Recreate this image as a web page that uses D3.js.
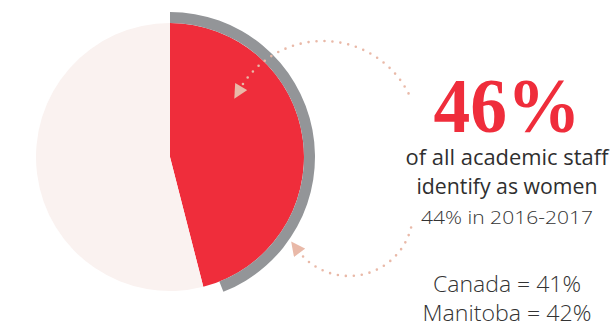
<!DOCTYPE html>
<html>
<head>
<meta charset="utf-8">
<script src="https://cdn.jsdelivr.net/npm/d3@7"></script>
<style>
  body { margin: 0; background: #fff; }
  svg { display: block; }
</style>
</head>
<body>
<div id="chart"></div>
<script>
// share of academic staff who identify as women
const categories = ['Women', 'Other'];
const currentShare = [46, 54];
const previousShare = 44;          // 2016-2017, drawn as the grey outer arc
const headline = '46%';
const captionLines = ['of all academic staff', 'identify as women'];
const previousLabel = '44% in 2016-2017';
const comparisons = ['Canada = 41%', 'Manitoba = 42%'];

const width = 616, height = 330;
const cx = 170, cy = 157, radius = 134;

const svg = d3.select('#chart').append('svg')
    .attr('width', width)
    .attr('height', height);

const defs = svg.append('defs');
defs.append('marker')
    .attr('id', 'arrow')
    .attr('viewBox', '0 0 10 10')
    .attr('refX', 2)
    .attr('refY', 5)
    .attr('markerUnits', 'userSpaceOnUse')
    .attr('markerWidth', 15)
    .attr('markerHeight', 14)
    .attr('orient', 'auto')
  .append('path')
    .attr('d', 'M0,0 L10,5 L0,10 Z')
    .attr('fill', '#e9b9a8');

const pieG = svg.append('g')
    .attr('transform', `translate(${cx},${cy})`);

const pie = d3.pie().sort(null).value(d => d)(currentShare);
const arc = d3.arc().innerRadius(0).outerRadius(radius);
const color = d3.scaleOrdinal().domain(categories).range(['#ef2d3b', '#faf2f0']);

pieG.selectAll('.slice')
    .data(pie)
    .join('path')
    .attr('class', 'slice')
    .attr('d', arc)
    .attr('fill', (d, i) => color(categories[i]));

// previous year ring
const share = d3.scaleLinear().domain([0, 100]).range([0, 2 * Math.PI]);
pieG.append('path')
    .attr('d', d3.arc()
        .innerRadius(radius)
        .outerRadius(radius + 11)
        .startAngle(0)
        .endAngle(share(previousShare)))
    .attr('fill', '#939598');

// dotted curved arrows
function arcPath(ox, oy, r, a0, a1, sweep) {
    const toRad = Math.PI / 180;
    const x0 = ox + r * Math.cos(a0 * toRad), y0 = oy + r * Math.sin(a0 * toRad);
    const x1 = ox + r * Math.cos(a1 * toRad), y1 = oy + r * Math.sin(a1 * toRad);
    return `M${x0},${y0} A${r},${r} 0 0 ${sweep} ${x1},${y1}`;
}

svg.append('path')
    .attr('d', arcPath(323, 137, 96, -27, -150, 0))
    .attr('fill', 'none')
    .attr('stroke', '#e9b9a8')
    .attr('stroke-width', 2.6)
    .attr('stroke-linecap', 'round')
    .attr('stroke-dasharray', '0 8')
    .attr('marker-end', 'url(#arrow)');

svg.append('path')
    .attr('d', arcPath(349, 212, 64, 14, 143, 1))
    .attr('fill', 'none')
    .attr('stroke', '#e9b9a8')
    .attr('stroke-width', 2.6)
    .attr('stroke-linecap', 'round')
    .attr('stroke-dasharray', '0 8')
    .attr('marker-end', 'url(#arrow)');

// text block
const tx = 507;
const sans = '"Open Sans", Lato, sans-serif';
const textG = svg.append('g').attr('text-anchor', 'middle');

textG.append('text')
    .attr('x', tx)
    .attr('y', 132)
    .attr('font-family', '"Liberation Serif", "DejaVu Serif", serif')
    .attr('font-weight', 'bold')
    .attr('font-size', 79)
    .attr('fill', '#ef2d3b')
    .attr('textLength', 147)
    .attr('lengthAdjust', 'spacingAndGlyphs')
    .text(headline);

const captionWidths = [203, 181];
textG.selectAll('.caption')
    .data(captionLines)
    .join('text')
    .attr('class', 'caption')
    .attr('x', tx)
    .attr('y', (d, i) => 165 + i * 29)
    .attr('font-family', sans)
    .attr('font-size', 21)
    .attr('fill', '#2f2f2f')
    .attr('textLength', (d, i) => captionWidths[i])
    .attr('lengthAdjust', 'spacingAndGlyphs')
    .text(d => d);

textG.append('text')
    .attr('x', tx)
    .attr('y', 224)
    .attr('font-family', sans)
    .attr('font-weight', 300)
    .attr('font-size', 19)
    .attr('fill', '#333')
    .attr('textLength', 172)
    .attr('lengthAdjust', 'spacingAndGlyphs')
    .text(previousLabel);

const compWidths = [148, 169];
textG.selectAll('.comp')
    .data(comparisons)
    .join('text')
    .attr('class', 'comp')
    .attr('x', tx)
    .attr('y', (d, i) => 292 + i * 29)
    .attr('font-family', sans)
    .attr('font-weight', 300)
    .attr('font-size', 21.5)
    .attr('fill', '#333')
    .attr('textLength', (d, i) => compWidths[i])
    .attr('lengthAdjust', 'spacingAndGlyphs')
    .text(d => d);
</script>
</body>
</html>
